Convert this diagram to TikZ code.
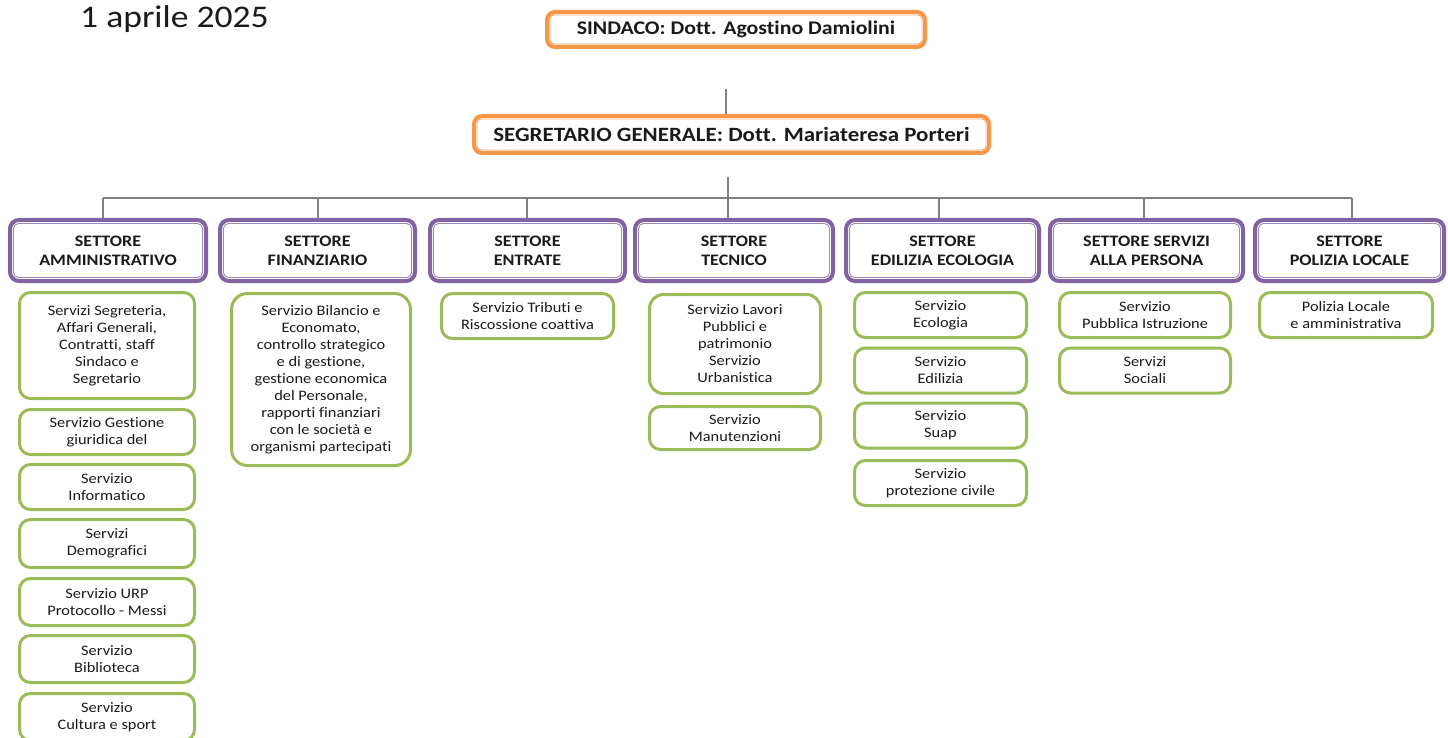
\documentclass[tikz,border=0pt]{standalone}
\usepackage{fontspec}
\setmainfont{Carlito}[FakeStretch=1.13,Ligatures=NoCommon]
\definecolor{orng}{HTML}{F79646}
\definecolor{orngin}{HTML}{F9A86C}
\definecolor{purp}{HTML}{8064A2}
\definecolor{purpin}{HTML}{9F88BC}
\definecolor{grn}{HTML}{9BBB59}
\definecolor{conn}{HTML}{808080}
\definecolor{ink}{HTML}{1A1A1A}
\tikzset{
  headbox/.style={draw=orng, line width=4pt, rounded corners=8pt, inner sep=0pt, align=center,
    text=ink},
  setbox/.style={draw=purp, line width=4pt, rounded corners=9pt, inner sep=0pt, align=center,
    text=ink, font=\fontsize{16}{19}\selectfont\bfseries, minimum height=61pt},
  svcbox/.style={draw=grn, line width=3pt, rounded corners=11pt, inner sep=0pt, align=center,
    text=ink, font=\fontsize{14.5}{17}\selectfont},
  oinner/.style={draw=orngin, line width=0.9pt, rounded corners=4pt},
  pinner/.style={draw=purpin, line width=0.9pt, rounded corners=5pt},
  link/.style={draw=conn, line width=1.3pt}
}
\begin{document}
\begin{tikzpicture}[x=1pt,y=-1pt]
\useasboundingbox[fill=white] (0,0) rectangle (1448,738);
% title
\node[anchor=base west, inner sep=0pt, text=ink, font=\fontsize{31.5}{34}\selectfont] (date) at (80,28) {1 aprile 2025};
% top boxes
\node[headbox, minimum width=378pt, minimum height=35pt, font=\fontsize{19.3}{22}\selectfont\bfseries] (sind) at (736,29.5) {SINDACO: Dott. Agostino Damiolini};
\node[headbox, minimum width=515pt, minimum height=37pt, font=\fontsize{20.3}{23}\selectfont\bfseries] (seg) at (731.5,134.5) {SEGRETARIO GENERALE: Dott. Mariateresa Porteri};
% settori
\node[setbox, minimum width=196pt] (s1) at (108,250.5) {SETTORE\\AMMINISTRATIVO};
\node[setbox, minimum width=195pt] (s2) at (317.5,250.5) {SETTORE\\FINANZIARIO};
\node[setbox, minimum width=195pt] (s3) at (527.5,250.5) {SETTORE\\ENTRATE};
\node[setbox, minimum width=198pt] (s4) at (734,250.5) {SETTORE\\TECNICO};
\node[setbox, minimum width=193pt] (s5) at (942.5,250.5) {SETTORE\\EDILIZIA ECOLOGIA};
\node[setbox, minimum width=193pt] (s6) at (1146.5,250.5) {SETTORE SERVIZI\\ALLA PERSONA};
\node[setbox, minimum width=189pt] (s7) at (1349.5,250.5) {SETTORE\\POLIZIA LOCALE};
\foreach \n in {sind,seg}
  \draw[oinner] ([shift={(5pt,5pt)}]\n.south west) rectangle ([shift={(-5pt,-5pt)}]\n.north east);
\foreach \n in {s1,s2,s3,s4,s5,s6,s7}
  \draw[pinner] ([shift={(5.5pt,5.5pt)}]\n.south west) rectangle ([shift={(-5.5pt,-5.5pt)}]\n.north east);
% column 1
\node[svcbox, minimum width=175pt, minimum height=106pt] (a1) at (107,345.5) {Servizi Segreteria,\\Affari Generali,\\Contratti, staff\\Sindaco e\\Segretario};
\node[svcbox, minimum width=175pt, minimum height=45pt] (a2) at (107,432) {Servizio Gestione\\giuridica del};
\node[svcbox, minimum width=175pt, minimum height=45pt] (a3) at (107,487) {Servizio\\Informatico};
\node[svcbox, minimum width=175pt, minimum height=48pt] (a4) at (107,543.5) {Servizi\\Demografici};
\node[svcbox, minimum width=175pt, minimum height=47pt] (a5) at (107,602) {Servizio URP\\Protocollo - Messi};
\node[svcbox, minimum width=175pt, minimum height=47pt] (a6) at (107,659) {Servizio\\Biblioteca};
\node[svcbox, minimum width=175pt, minimum height=47pt] (a7) at (107,717) {Servizio\\Cultura e sport};
% column 2
\node[svcbox, minimum width=179pt, minimum height=172pt, rounded corners=16pt] (b1) at (321,379.5) {Servizio Bilancio e\\Economato,\\controllo strategico\\e di gestione,\\gestione economica\\del Personale,\\rapporti finanziari\\con le società e\\organismi partecipati};
% column 3
\node[svcbox, minimum width=172pt, minimum height=45pt] (c1) at (527.5,316) {Servizio Tributi e\\Riscossione coattiva};
% column 4
\node[svcbox, minimum width=171pt, minimum height=99pt, rounded corners=14pt] (d1) at (735,344) {Servizio Lavori\\Pubblici e\\patrimonio\\Servizio\\Urbanistica};
\node[svcbox, minimum width=171pt, minimum height=43pt] (d2) at (735,428) {Servizio\\Manutenzioni};
% column 5
\node[svcbox, minimum width=172pt, minimum height=45pt] (e1) at (940.5,315) {Servizio\\Ecologia};
\node[svcbox, minimum width=172pt, minimum height=45pt] (e2) at (940.5,370.5) {Servizio\\Edilizia};
\node[svcbox, minimum width=172pt, minimum height=45pt] (e3) at (940.5,425.5) {Servizio\\Suap};
\node[svcbox, minimum width=172pt, minimum height=45pt] (e4) at (940.5,483) {Servizio\\protezione civile};
% column 6
\node[svcbox, minimum width=171pt, minimum height=45pt] (f1) at (1145,315) {Servizio\\Pubblica Istruzione};
\node[svcbox, minimum width=171pt, minimum height=45pt] (f2) at (1145,370.5) {Servizi\\Sociali};
% column 7
\node[svcbox, minimum width=173pt, minimum height=45pt] (g1) at (1346,315) {Polizia Locale\\e amministrativa};
% connectors
\coordinate (top) at (726,89);
\draw[link] (top) -- (top |- seg.north);
\coordinate (hub) at (728,177);
\coordinate (bus) at (728,198);
\draw[link] (hub) -- (bus);
\coordinate (bl) at (103,198);
\coordinate (br) at (1352,198);
\draw[link] (bl) -- (br);
\coordinate (p1) at (103,198);
\coordinate (p2) at (318,198);
\coordinate (p3) at (527,198);
\coordinate (p4) at (728,198);
\coordinate (p5) at (939,198);
\coordinate (p6) at (1144,198);
\coordinate (p7) at (1352,198);
\foreach \i in {1,...,7}
  \draw[link] (p\i) -- (p\i |- s\i.north);
\end{tikzpicture}
\end{document}
